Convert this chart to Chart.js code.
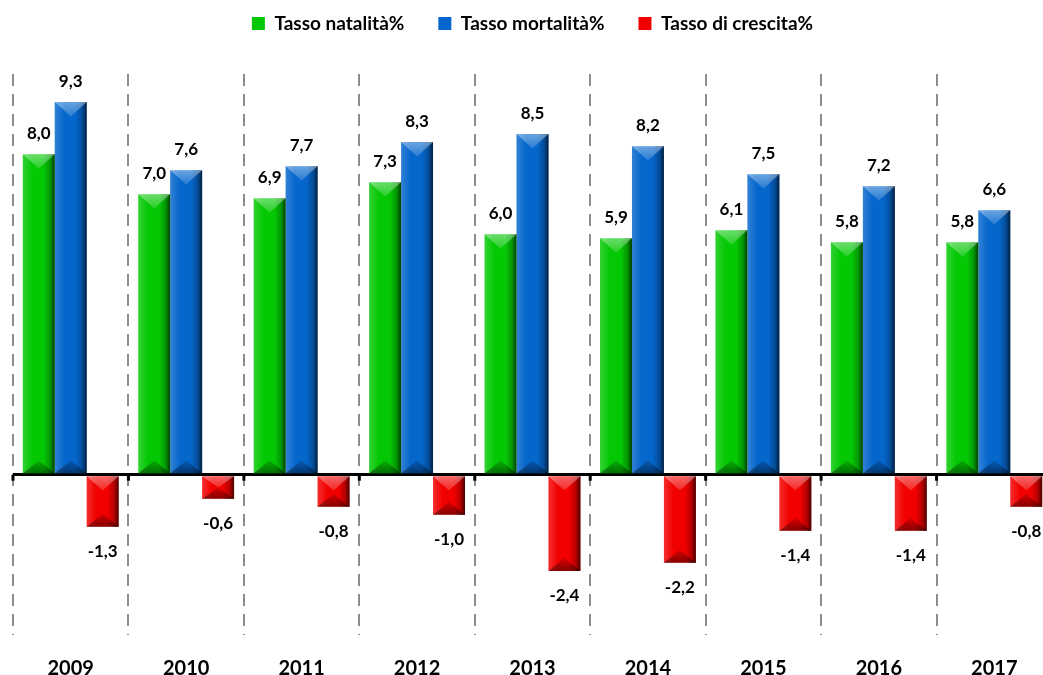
<!DOCTYPE html>
<html>
<head>
<meta charset="utf-8">
<script src="https://cdn.jsdelivr.net/npm/chart.js@4/dist/chart.umd.min.js"></script>
<style>
  html, body { margin: 0; padding: 0; background: #fff; overflow: hidden; width: 1043px; height: 675px; }
  #wrap { position: relative; width: 1043px; height: 675px; overflow: hidden; }
  #c { position: absolute; left: 0; top: -20px; }
</style>
</head>
<body>
<div id="wrap"><canvas id="c" width="1052" height="723"></canvas></div>
<script>
const years = ['2009', '2010', '2011', '2012', '2013', '2014', '2015', '2016', '2017'];
const natalita = [8.0, 7.0, 6.9, 7.3, 6.0, 5.9, 6.1, 5.8, 5.8];
const mortalita = [9.3, 7.6, 7.7, 8.3, 8.5, 8.2, 7.5, 7.2, 6.6];
const crescita = [-1.3, -0.6, -0.8, -1.0, -2.4, -2.2, -1.4, -1.4, -0.8];
const seriesNames = ['Tasso natalità%', 'Tasso mortalità%', 'Tasso di crescita%'];
const seriesColors = ['#05c805', '#0566cc', '#f20000'];

const FONT = 'Lato, "Open Sans", sans-serif';
Chart.defaults.color = '#000';
Chart.defaults.font.family = FONT;

function fmt(v) { return v.toFixed(1).replace('.', ','); }

const bevelPlugin = {
  id: 'bevel',
  afterDatasetsDraw(chart) {
    const ctx = chart.ctx;
    ctx.save();
    chart.data.datasets.forEach((ds, di) => {
      const meta = chart.getDatasetMeta(di);
      meta.data.forEach((el, i) => {
        const p = el.getProps(['x', 'y', 'base', 'width'], true);
        const x0 = p.x - p.width / 2, x1 = p.x + p.width / 2, w = p.width;
        const top = Math.min(p.y, p.base), bot = Math.max(p.y, p.base), h = bot - top;
        // left highlight
        let g = ctx.createLinearGradient(x0, 0, x0 + w * 0.3, 0);
        g.addColorStop(0, 'rgba(255,255,255,0.18)');
        g.addColorStop(1, 'rgba(255,255,255,0)');
        ctx.fillStyle = g; ctx.fillRect(x0, top, w * 0.3, h);
        // right shadow
        g = ctx.createLinearGradient(x1 - w * 0.35, 0, x1, 0);
        g.addColorStop(0, 'rgba(0,0,0,0)');
        g.addColorStop(0.6, 'rgba(0,0,0,0.25)');
        g.addColorStop(1, 'rgba(0,0,0,0.7)');
        ctx.fillStyle = g; ctx.fillRect(x1 - w * 0.35, top, w * 0.35, h);
        // top bevel
        const d = Math.min(w * 0.45, h / 2);
        g = ctx.createLinearGradient(0, top, 0, top + d);
        g.addColorStop(0, 'rgba(255,255,255,0.4)');
        g.addColorStop(1, 'rgba(255,255,255,0.15)');
        ctx.fillStyle = g;
        ctx.beginPath(); ctx.moveTo(x0, top); ctx.lineTo(x1, top); ctx.lineTo(p.x, top + d); ctx.closePath(); ctx.fill();
        // bottom bevel
        const d2 = Math.min(w * 0.4, h / 2);
        g = ctx.createLinearGradient(0, bot - d2, 0, bot);
        g.addColorStop(0, 'rgba(0,0,0,0.12)');
        g.addColorStop(1, 'rgba(0,0,0,0.45)');
        ctx.fillStyle = g;
        ctx.beginPath(); ctx.moveTo(x0, bot); ctx.lineTo(x1, bot); ctx.lineTo(p.x, bot - d2); ctx.closePath(); ctx.fill();
      });
    });
    // value labels
    ctx.fillStyle = '#000';
    ctx.font = 'bold 17px ' + FONT;
    ctx.textAlign = 'center';
    ctx.textBaseline = 'middle';
    chart.data.datasets.forEach((ds, di) => {
      const meta = chart.getDatasetMeta(di);
      meta.data.forEach((el, i) => {
        const v = ds.data[i];
        const p = el.getProps(['x', 'y'], true);
        const ty = v >= 0 ? p.y - 21 : p.y + 25;
        ctx.fillText(fmt(v), p.x, ty);
      });
    });
    // small ticks at zero line on category boundaries
    const xs = chart.scales.x, ys = chart.scales.y;
    const y0 = ys.getPixelForValue(0);
    const step = xs.width / years.length;
    ctx.fillStyle = '#000';
    for (let k = 0; k <= years.length; k++) {
      const bx = xs.left + k * step;
      ctx.fillRect(bx - 1.5, y0, 3, 6);
    }
    ctx.restore();
  }
};

const datasets = [natalita, mortalita, crescita].map((arr, k) => ({
  label: seriesNames[k],
  data: arr,
  backgroundColor: seriesColors[k],
  borderWidth: 0,
  categoryPercentage: 0.83,
  barPercentage: 1.0
}));

new Chart(document.getElementById('c'), {
  type: 'bar',
  data: { labels: years, datasets },
  options: {
    responsive: false,
    animation: false,
    devicePixelRatio: 1,
    layout: { padding: { left: 13, right: 0, top: 0, bottom: 0 } },
    plugins: {
      legend: {
        position: 'top',
        labels: {
          boxWidth: 13, boxHeight: 13, padding: 34,
          font: { size: 19, weight: 'bold', family: FONT }
        }
      },
      title: { display: true, text: '', padding: 0, weight: 500, font: { size: 31, lineHeight: 1 } },
      tooltip: { enabled: false }
    },
    scales: {
      x: {
        offset: true,
        grid: { offset: true, color: '#8c8c8c', lineWidth: 2, drawTicks: false },
        border: { display: false, dash: [12, 8] },
        ticks: { padding: 22, font: { size: 20, weight: 'bold', family: FONT }, color: '#000' }
      },
      y: {
        min: -4, max: 10,
        display: true,
        ticks: { display: false, stepSize: 1 },
        grid: {
          drawTicks: false,
          color: (c) => (c.tick && c.tick.value === 0 ? '#000' : 'rgba(0,0,0,0)'),
          lineWidth: (c) => (c.tick && c.tick.value === 0 ? 3 : 0)
        },
        border: { display: false }
      }
    }
  },
  plugins: [bevelPlugin]
});
</script>
</body>
</html>
